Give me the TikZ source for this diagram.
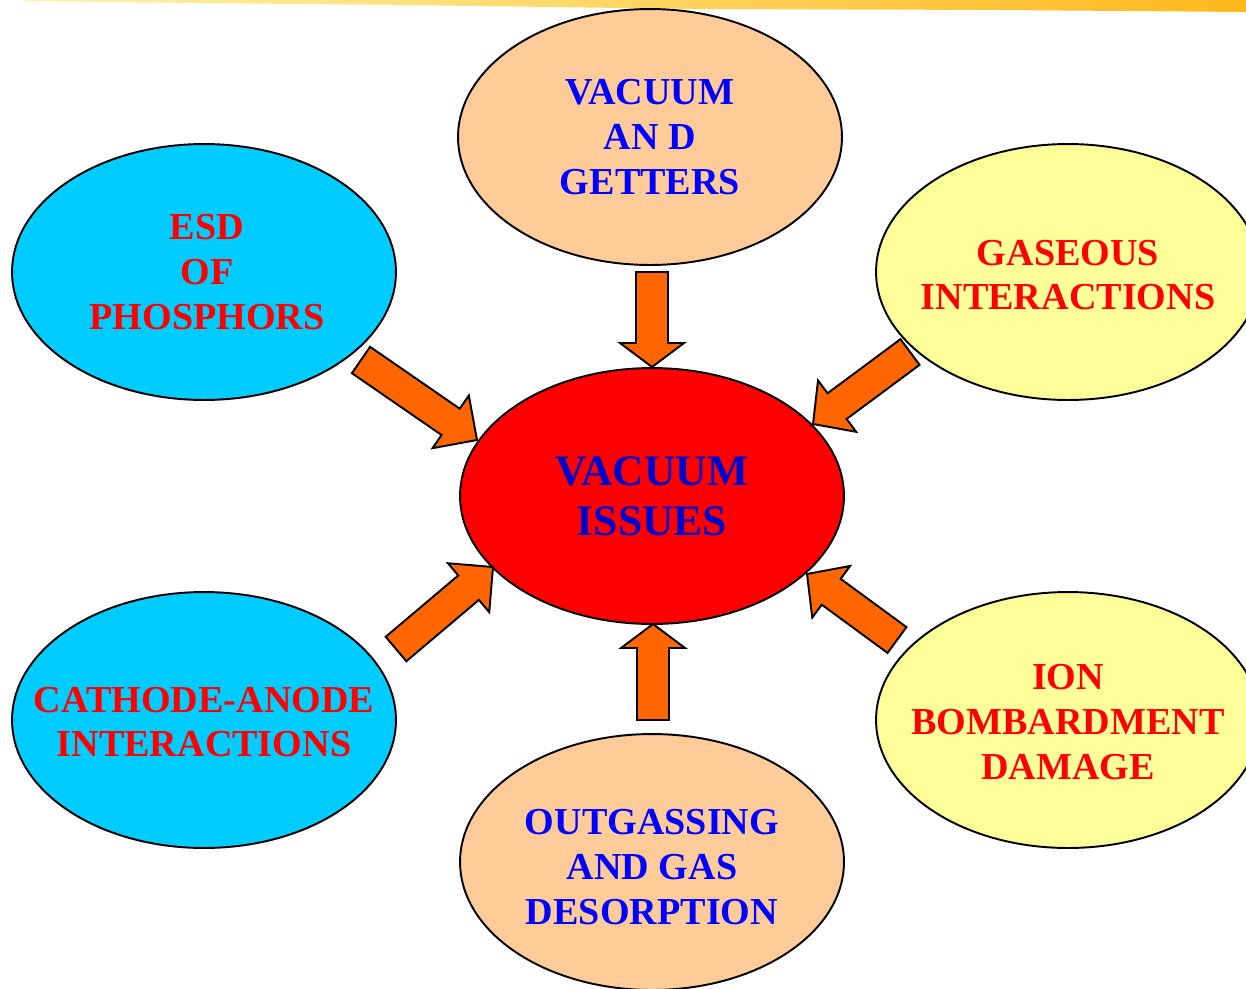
\documentclass[tikz,border=0pt]{standalone}
\usepackage{fontspec}
\setmainfont{Liberation Serif}
\usetikzlibrary{shapes.geometric,calc}
\definecolor{peach}{HTML}{FFCC99}
\definecolor{skyc}{HTML}{00CCFF}
\definecolor{paley}{HTML}{FFFF99}
\definecolor{redc}{HTML}{FF0000}
\definecolor{arrowc}{HTML}{FF6600}
\definecolor{bluet}{HTML}{0000FF}
\definecolor{darkbluet}{HTML}{0000CC}
\definecolor{barlight}{HTML}{FFF2A8}
\definecolor{bargold}{HTML}{FFB81C}
\tikzset{
  ell/.style={ellipse, draw=black, line width=1.1pt, minimum width=7.68cm, minimum height=5.12cm, inner sep=0pt},
  lbl/.style={align=center, font=\bfseries\fontsize{21.7}{25.5}\selectfont, inner sep=0pt},
  biglbl/.style={align=center, font=\bfseries\fontsize{24.8}{28.6}\selectfont, inner sep=0pt},
  barrow/.style={draw=black, fill=arrowc, line width=1.1pt, line join=miter}
}
% tail, tip, half shaft, half head, head length
\newcommand\blockarrow[5]{%
  \path ($(#2)!#5!(#1)$) coordinate (hb);
  \draw[barrow] ($(#1)!#3!90:(#2)$) -- ($(hb)!#3!90:(#2)$) -- ($(hb)!#4!90:(#2)$)
     -- (#2) -- ($(hb)!#4!-90:(#2)$) -- ($(hb)!#3!-90:(#2)$) -- ($(#1)!#3!-90:(#2)$) -- cycle;
}
\begin{document}
\begin{tikzpicture}[x=0.02cm, y=-0.02cm]
\clip (0,0) rectangle (1246,988);
\fill[white] (0,0) rectangle (1246,988);
% top decorative bar
\shade[left color=barlight, right color=bargold] (25,0) -- (1246,0) -- (1246,12) -- (1000,10) -- (700,9) -- (400,5) -- (200,3) -- (25,1) -- cycle;

% ellipses
\node[ell, fill=peach] (getters) at (650,137) {};
\node[ell, fill=skyc] (esd) at (204,272) {};
\node[ell, fill=paley] (gas) at (1068,272) {};
\node[ell, fill=redc] (issues) at (652,496) {};
\node[ell, fill=skyc] (cathode) at (204,720) {};
\node[ell, fill=paley] (ion) at (1068,720) {};
\node[ell, fill=peach] (outgas) at (652,862) {};

% labels
\node[lbl, text=bluet] at (getters.center) {VACUUM\\AN D\\GETTERS};
\node[lbl, text=redc] at ($(esd.center)+(3,0)$) {ESD\\OF\\PHOSPHORS};
\node[lbl, text=redc] at ($(gas.center)+(0,3)$) {GASEOUS\\INTERACTIONS};
\node[biglbl, text=darkbluet] at (issues.center) {VACUUM\\ISSUES};
\node[lbl, text=redc] at ($(cathode.center)+(0,2)$) {CATHODE-ANODE\\INTERACTIONS};
\node[lbl, text=redc] at ($(ion.center)+(0,2)$) {ION\\BOMBARDMENT\\DAMAGE};
\node[lbl, text=bluet] at ($(outgas.center)+(0,5)$) {OUTGASSING\\AND GAS\\DESORPTION};

% arrow anchor points
\coordinate (t1) at (652,272); \coordinate (p1) at (652,367);
\coordinate (t2) at (361,360); \coordinate (p2) at (477,440);
\coordinate (t3) at (910,352); \coordinate (p3) at (813,424);
\coordinate (t4) at (396,649); \coordinate (p4) at (493,567);
\coordinate (t5) at (897,640); \coordinate (p5) at (807,574);
\coordinate (t6) at (653,720); \coordinate (p6) at (653,624);

\blockarrow{t1}{p1}{0.32cm}{0.64cm}{0.48cm}
\blockarrow{t2}{p2}{0.32cm}{0.64cm}{0.64cm}
\blockarrow{t3}{p3}{0.32cm}{0.64cm}{0.6cm}
\blockarrow{t4}{p4}{0.32cm}{0.64cm}{0.64cm}
\blockarrow{t5}{p5}{0.32cm}{0.64cm}{0.6cm}
\blockarrow{t6}{p6}{0.32cm}{0.64cm}{0.48cm}
\end{tikzpicture}
\end{document}
